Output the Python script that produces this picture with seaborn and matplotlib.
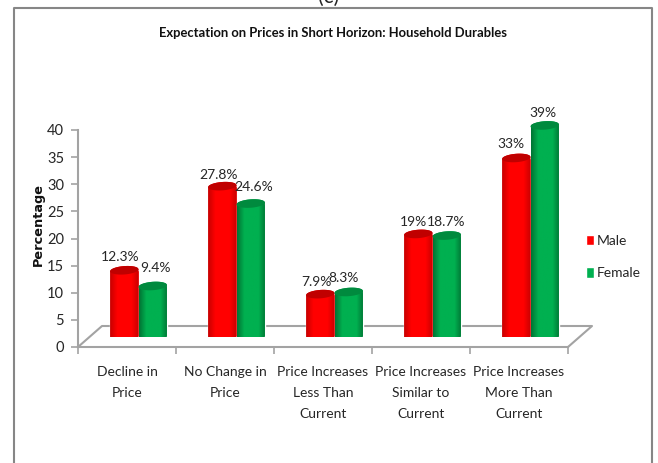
import numpy as np
import pandas as pd
import matplotlib
matplotlib.use("Agg")
import matplotlib.pyplot as plt
from matplotlib.colors import LinearSegmentedColormap
from matplotlib.lines import Line2D
from matplotlib.patches import Polygon
from matplotlib.path import Path
import seaborn as sns

categories = ["Decline in\nPrice", "No Change in\nPrice", "Price Increases\nLess Than\nCurrent",
              "Price Increases\nSimilar to\nCurrent", "Price Increases\nMore Than\nCurrent"]
male = [12.3, 27.8, 7.9, 19, 33]
female = [9.4, 24.6, 8.3, 18.7, 39]
male_labels = ["12.3%", "27.8%", "7.9%", "19%", "33%"]
female_labels = ["9.4%", "24.6%", "8.3%", "18.7%", "39%"]
title = "Expectation on Prices in Short Horizon: Household Durables"

W, H = 658, 463
sns.set_theme(style="white")
FS = 10
plt.rcParams["font.family"] = ["Lato", "DejaVu Sans"]
fig = plt.figure(figsize=(W / 100, H / 100), dpi=100, facecolor="white")

def rect(l, r, bottom, top):
    return [l / W, 1 - bottom / H, (r - l) / W, (bottom - top) / H]

GRAY = "#a3a3a3"
TXT = "#262626"
ax = fig.add_axes(rect(78, 568, 347, 130))
bars = fig.add_axes(rect(89.5, 579.5, 337, 120))
bars.patch.set_alpha(0)

df = pd.DataFrame({
    "category": categories * 2,
    "value": male + female,
    "sex": ["Male"] * 5 + ["Female"] * 5,
})
colors = {"Male": "#ff0000", "Female": "#00b050"}
sns.barplot(data=df, x="category", y="value", hue="sex", palette=colors, width=0.58,
            gap=0, saturation=1, ax=bars, legend=True, errorbar=None)
bars.axis("off")

# main axis frame
ax.set_xlim(-0.5, 4.5)
ax.set_ylim(0, 40)
ax.set_xticks(np.arange(-0.5, 5, 1))
ax.set_xticklabels([])
ax.set_xticks(np.arange(5), labels=categories, minor=True)
ax.tick_params(axis="x", which="minor", length=0, labelsize=FS, labelcolor=TXT, pad=13.5)
ax.tick_params(axis="x", which="major", length=5, width=1.2, color=GRAY, bottom=True)
ax.tick_params(axis="y", length=5, width=1.2, color=GRAY, labelsize=10.5, labelcolor=TXT, pad=5, left=True)
ax.set_yticks(range(0, 45, 5))
for lbl in ax.get_xticklabels(minor=True):
    lbl.set_linespacing(1.9)
for s in ("top", "right"):
    ax.spines[s].set_visible(False)
for s in ("left", "bottom"):
    ax.spines[s].set_color(GRAY)
    ax.spines[s].set_linewidth(1.5)

# floor of the pseudo-3D plot
dx, dy = 24 / 98, 21 * 40 / 217
ax.plot([-0.5, -0.5 + dx, 4.5 + dx, 4.5], [0, dy, dy, 0], color=GRAY, lw=1.5, clip_on=False, zorder=1)

# cylinder shading on every seaborn bar
def cmap_for(base, dark):
    return LinearSegmentedColormap.from_list("c", [dark, base, base, base, dark])

maps = {"#ff0000": cmap_for("#ff0000", "#c80000"), "#00b050": cmap_for("#00b050", "#007434")}
tops = {"#ff0000": "#c00000", "#00b050": "#008a3e"}
grad = np.linspace(0, 1, 64)[None, :]
semi = 4.2 * 40 / 217
tilt = 1.0 * 40 / 217
theta = np.linspace(0, 2 * np.pi, 60)

label_sets = [male_labels, female_labels]
nudges = [[(-4, 13.5), (-4, 11.5), (-4, 12.5), (-5, 11.5), (-5, 13.5)],
          [(3, 18.5), (3, 16.5), (-5, 13.5), (-1, 13.5), (-2, 12.5)]]
for cont, labs, nudge in zip(bars.containers, label_sets, nudges):
    for p, lab, off in zip(cont.patches, labs, nudge):
        x0, w, h = p.get_x(), p.get_width(), p.get_height()
        hexc = matplotlib.colors.to_hex(p.get_facecolor())
        xc = x0 + w / 2
        xs = np.linspace(x0, x0 + w, 40)
        u = (xs - xc) / (w / 2)
        arc = semi * np.sqrt(np.clip(1 - u ** 2, 0, 1))
        low = -arc + tilt * u
        high = h + arc + tilt * u
        poly = np.r_[np.c_[xs, low], np.c_[xs[::-1], high[::-1]]]
        im = bars.imshow(grad, extent=[x0, x0 + w, -3, h + 3], aspect="auto",
                         cmap=maps[hexc], zorder=3)
        im.set_clip_path(Path(poly), transform=bars.transData)
        ex = xc + w / 2 * np.cos(theta)
        ey = h + semi * np.sin(theta) + tilt * np.cos(theta)
        bars.add_patch(Polygon(np.c_[ex, ey], closed=True, fc=tops[hexc], ec="none", zorder=4))
        bars.annotate(lab, (xc, h), xytext=(off[0] * 0.72, off[1] * 0.72), textcoords="offset points",
                      ha="center", va="center", fontsize=FS, color=TXT, zorder=6, annotation_clip=False)
bars.set_xlim(-0.5, 4.5)
bars.set_ylim(0, 40)

# legend
handles, labels = bars.get_legend_handles_labels()
bars.legend(handles, labels, loc="center left", frameon=False, fontsize=FS, labelcolor=TXT,
            bbox_to_anchor=((585.5 - 89.5) / 490, (337 - 257) / 217),
            handlelength=0.6, handleheight=0.8, handletextpad=0.2, labelspacing=1.45, borderpad=0, borderaxespad=0)

# title and axis title
fig.text(333 / W, 1 - 33 / H, title, ha="center", va="center", fontsize=9.35, fontweight="bold", color="#111111")
fig.text(38 / W, 1 - 224 / H, "Percentage", rotation=90, ha="center", va="center", fontsize=9.3,
         fontweight="bold", color="#111111", family="DejaVu Sans")
fig.text(329 / W, 1 + 3 / H, "(c)", ha="center", va="center", fontsize=15, color=TXT)

# chart-area border, open at the bottom where the source was cropped
bx = [13.5 / W, 13.5 / W, 652 / W, 652 / W]
by = [0, 1 - 8 / H, 1 - 8 / H, 0]
fig.add_artist(Line2D(bx, by, color="#868686", lw=1.5, transform=fig.transFigure))

fig.savefig("out.png", dpi=100, facecolor="white")
